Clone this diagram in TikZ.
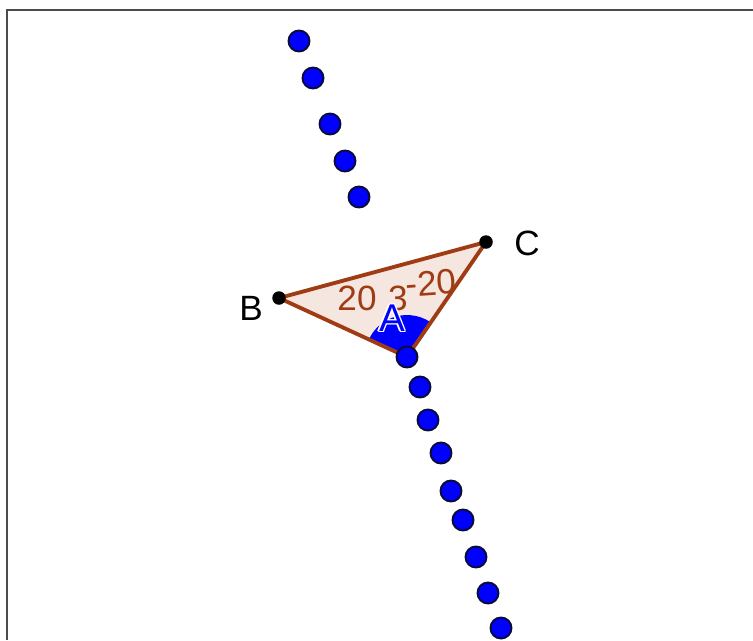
\documentclass[tikz,border=0pt]{standalone}
\usepackage{fontspec}
\setmainfont{Liberation Sans}
\usetikzlibrary{angles,positioning,calc}
\definecolor{edgebrown}{RGB}{160,60,20}
\definecolor{trifill}{RGB}{245,230,224}
\definecolor{dotrim}{RGB}{10,10,60}
\tikzset{
  bluedot/.style={circle,fill=blue,draw=dotrim,line width=1.1pt,minimum size=0.42cm,inner sep=0pt},
  blackdot/.style={circle,fill=black,minimum size=0.27cm,inner sep=0pt},
  ptlabel/.style={font=\fontsize{20}{24}\selectfont,text=black},
  measure/.style={font=\fontsize{20}{24}\selectfont,text=edgebrown,inner sep=0pt}
}
\begin{document}
\begin{tikzpicture}[x=0.02cm,y=-0.02cm]
\useasboundingbox (0,0) rectangle (753,640);
\draw[gray!60!black,line width=0.7pt] (7,640) -- (7,10) -- (753,10);

\coordinate (A) at (407,357);
\coordinate (B) at (279,298);
\coordinate (C) at (486,242);

\fill[trifill] (A) -- (B) -- (C) -- cycle;
\pic[fill=blue,draw=none,angle radius=0.84cm] {angle=C--A--B};
\draw[edgebrown,line width=2.2pt,line join=round] (A) -- (B) -- (C) -- cycle;

% measures
\node[measure] (m1) at (357,298) {20};
\node[measure] (m2) at (398,298) {3};
\node[measure,rotate=4] (m3) at (431,283) {-20};

% upper track
\foreach \p [count=\i] in {(299,41),(313,78),(330,124),(345,161),(359,197)} {
  \node[bluedot] (u\i) at \p {};
}
% lower track
\foreach \p [count=\i] in {(407,357),(420,387),(428,420),(441,453),(451,491),(463,520),(476,557),(488,593),(501,628)} {
  \node[bluedot] (d\i) at \p {};
}

\node[blackdot] (pB) at (B) {};
\node[blackdot] (pC) at (C) {};
\node[ptlabel] (lB) at (251,308) {B};
\node[ptlabel] (lC) at (527,243) {C};

% label A with white rim
\foreach \a in {0,45,...,315} {
  \node[font=\fontsize{22}{26}\selectfont,text=white] at ($(392,318)+(\a:1.3)$) {A};
}
\node[font=\fontsize{22}{26}\selectfont,text=blue] (lA) at (392,318) {A};
\end{tikzpicture}
\end{document}
